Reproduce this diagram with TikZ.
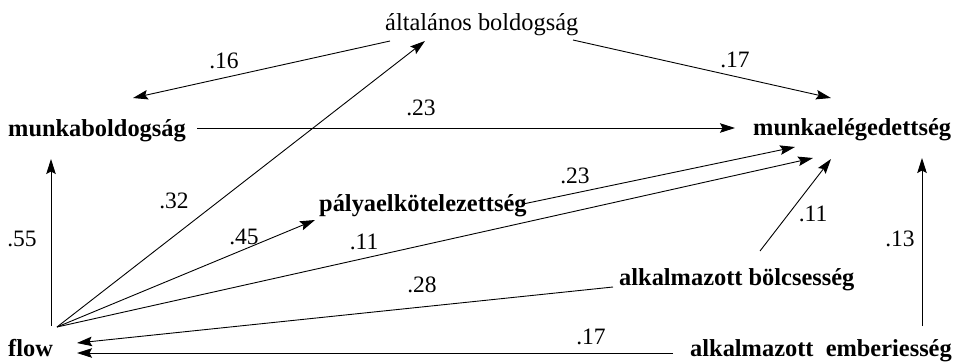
\documentclass[tikz,border=0pt]{standalone}
\usepackage{fontspec}
\setmainfont{Liberation Serif}
\usetikzlibrary{arrows.meta}
\begin{document}
\begin{tikzpicture}[x=1pt,y=-1pt,
  var/.style={inner sep=0pt, font=\fontsize{24.4}{29}\selectfont\bfseries, anchor=base west},
  varn/.style={inner sep=0pt, font=\fontsize{24.4}{29}\selectfont, anchor=base west},
  coef/.style={inner sep=0pt, font=\fontsize{23.5}{28}\selectfont},
  link/.style={line width=0.9pt, -{Stealth[length=15pt,width=9.5pt,inset=2.5pt]}}]
\useasboundingbox (0,0) rectangle (953,362);
% variables
\node[varn] (alt) at (385,30) {általános boldogság};
\node[var] (mb) at (8,136) {munkaboldogság};
\node[var] (me) at (753,135) {munkaelégedettség};
\node[var] (pa) at (319,211) {pályaelkötelezettség};
\node[var] (bo) at (619,285) {alkalmazott bölcsesség};
\node[var] (fl) at (8,356) {flow};
\node[var] (em) at (690,356) {alkalmazott\hspace{0.5em}emberiesség};
% ports
\coordinate (altL) at (390,41);
\coordinate (altR) at (573,40);
\coordinate (altIn) at (425,41);
\coordinate (mbIn16) at (133,98);
\coordinate (mbOut) at (197,128);
\coordinate (mbIn) at (51,159);
\coordinate (meIn17) at (831,98);
\coordinate (meIn23) at (735,128);
\coordinate (meInA) at (795,147);
\coordinate (meInB) at (813,158);
\coordinate (meInC) at (831,159);
\coordinate (meInD) at (922,158);
\coordinate (flOut) at (57,327);
\coordinate (flVert) at (51,326);
\coordinate (flInA) at (77,343);
\coordinate (flInB) at (77,353);
\coordinate (paIn) at (315,220);
\coordinate (paOut) at (523,204);
\coordinate (boOutA) at (760,251);
\coordinate (boOutB) at (613,287);
\coordinate (emOutA) at (922,326);
\coordinate (emOutB) at (673,353);
% connectors
\draw[link] (altL) -- (mbIn16);
\draw[link] (altR) -- (meIn17);
\draw[link] (mbOut) -- (meIn23);
\draw[link] (flVert) -- (mbIn);
\draw[link] (flOut) -- (altIn);
\draw[link] (flOut) -- (paIn);
\draw[link] (flOut) -- (meInB);
\draw[link] (paOut) -- (meInA);
\draw[link] (boOutA) -- (meInC);
\draw[link] (emOutA) -- (meInD);
\draw[link] (boOutB) -- (flInA);
\draw[link] (emOutB) -- (flInB);
% coefficients
\node[coef] (c16) at (224,61) {.16};
\node[coef] (c17a) at (735,60) {.17};
\node[coef] (c23a) at (421,108) {.23};
\node[coef] (c32) at (174,201) {.32};
\node[coef] (c55) at (22,239) {.55};
\node[coef] (c45) at (244,237) {.45};
\node[coef] (c11a) at (364,242) {.11};
\node[coef] (c28) at (422,285) {.28};
\node[coef] (c23b) at (575,176) {.23};
\node[coef] (c11b) at (813,214) {.11};
\node[coef] (c13) at (900,239) {.13};
\node[coef] (c17b) at (591,337) {.17};
\end{tikzpicture}
\end{document}
